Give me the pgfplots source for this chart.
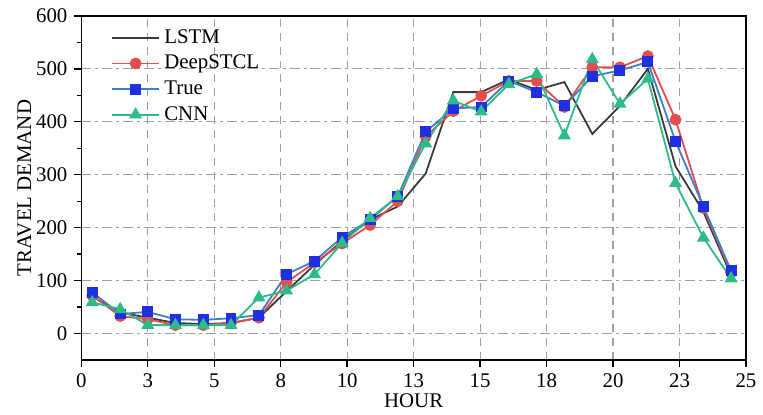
\documentclass[border=0pt]{standalone}
\usepackage{fontspec}
\setmainfont{Liberation Serif}
\usepackage{pgfplots}
\usepackage{pgfplotstable}
\pgfplotsset{compat=1.18}

\definecolor{lstmc}{HTML}{3A3A3A}
\definecolor{deepc}{HTML}{E04E4E}
\definecolor{truel}{HTML}{3F7FC6}
\definecolor{truem}{HTML}{1F30E0}
\definecolor{cnnc}{HTML}{2DBB8A}
\definecolor{gridc}{HTML}{A0A0A0}

% hourly travel demand, 24 points
\pgfplotstableread{
x      lstm deep true cnn
0.41   70   72   78   59
1.46   40   33   37   46
2.50   30   27   41   16
3.54   20   16   27   16
4.59   18   16   26   16
5.63   20   20   29   16
6.68   30   30   35   68
7.72   80   97   112  81
8.77   130  134  137  112
9.81   175  170  182  171
10.86  215  205  215  218
11.90  240  250  259  259
12.95  302  372  381  359
13.99  456  420  425  440
15.04  456  449  428  419
16.08  480  477  477  471
17.13  460  477  456  490
18.17  475  428  430  374
19.22  377  503  486  518
20.26  430  503  497  434
21.31  500  524  513  481
22.35  316  404  363  284
23.40  230  237  240  181
24.44  110  115  119  104
}\demand

\begin{document}
\begin{tikzpicture}
  \begin{axis}[
    name=ax,
    scale only axis,
    width=335pt, height=173.5pt,
    xmin=0, xmax=25, ymin=-50, ymax=600,
    xtick={0,2.5,...,25},
    xticklabels={0,3,5,8,10,13,15,18,20,23,25},
    ytick={0,100,...,600},
    minor y tick num=1,
    xtick pos=left, ytick pos=left,
    tick align=outside,
    major tick length=3.5pt, minor tick length=2pt,
    axis line style={line width=0.8pt},
    every tick/.style={black, line width=0.7pt},
    /pgf/number format/assume math mode=true,
    tick label style={font=\fontsize{10.5}{12}\selectfont},
    label style={font=\fontsize{10.5}{12}\selectfont},
    xlabel={HOUR}, ylabel={TRAVEL DEMAND},
    xlabel style={yshift=4pt},
    ylabel style={yshift=-4.5pt},
    grid=major,
    x grid style={gridc, line width=0.6pt, dash pattern=on 4pt off 3pt},
    y grid style={gridc, line width=0.6pt, dash pattern=on 5pt off 2pt on 1.5pt off 2pt},
    legend style={draw=none, fill=none, at={(0.035,0.985)}, anchor=north west,
      font=\fontsize{10.5}{12}\selectfont, row sep=0.5pt,
      /tikz/every even column/.append style={column sep=2pt}},
    legend cell align=left,
    legend image code/.code={\draw[mark repeat=2,mark phase=2]
      plot coordinates {(0pt,0pt) (12pt,0pt) (24pt,0pt)};},
  ]
  \addplot[lstmc, line width=0.9pt, mark=none] table[x=x, y=lstm] {\demand};
  \addlegendentry{LSTM}
  \addplot[deepc, line width=0.9pt, mark=*, mark size=2.5pt,
    mark options={fill=deepc, draw=deepc}] table[x=x, y=deep] {\demand};
  \addlegendentry{DeepSTCL}
  \addplot[truel, line width=0.9pt, mark=square*, mark size=2.3pt,
    mark options={fill=truem, draw=truem}] table[x=x, y=true] {\demand};
  \addlegendentry{True}
  \addplot[cnnc, line width=0.9pt, mark=triangle*, mark size=2.9pt,
    mark options={fill=cnnc, draw=cnnc}] table[x=x, y=cnn] {\demand};
  \addlegendentry{CNN}
  \end{axis}
  \path (ax.south west) ++(-41pt,-27.5pt) rectangle ++(381.5pt,209pt);
\end{tikzpicture}
\end{document}
